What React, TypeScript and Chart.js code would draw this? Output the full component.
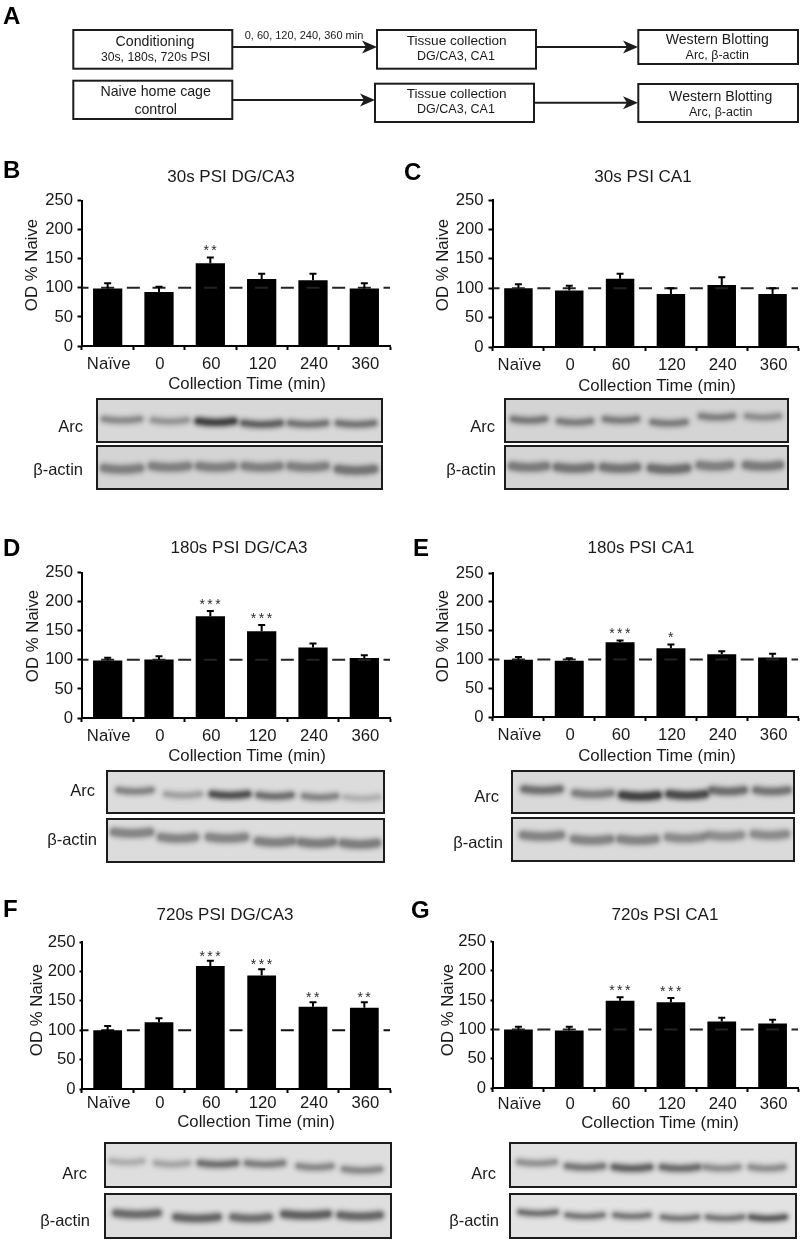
import React, { useEffect, useRef } from "react";
import { Chart, registerables } from "chart.js";

Chart.register(...registerables);

const FONT = '"Liberation Sans", Arial, sans-serif';
const INK = "#1a1a1a";

// ---- Chart data ----
const timeLabels = ["Naïve", "0", "60", "120", "240", "360"];
const yTicks = [0, 50, 100, 150, 200, 250];
const baseline = 100;

const bValues = [99, 93, 142, 115, 113, 99];
const bErrTop = [108, 102, 152, 124, 124, 108];
const bStars = ["", "", "**", "", "", ""];

const cValues = [100, 96, 116, 90, 105.5, 90];
const cErrTop = [106.7, 104, 124.7, 100, 118.5, 100];
const cStars = ["", "", "", "", "", ""];

const dValues = [99, 100.7, 175, 149, 121, 103];
const dErrTop = [103.5, 106, 184, 160, 128, 108];
const dStars = ["", "", "***", "***", "", ""];

const eValues = [99.4, 97.7, 130, 119.5, 109, 103.4];
const eErrTop = [104, 102, 132.8, 126, 114, 110];
const eStars = ["", "", "***", "*", "", ""];

const fValues = [100, 113.7, 209, 193, 139.7, 138];
const fErrTop = [107, 120.5, 218, 203.6, 147.6, 147.6];
const fStars = ["", "", "***", "***", "**", "**"];

const gValues = [100, 98, 149, 146.5, 113.7, 110];
const gErrTop = [104.6, 104.6, 155, 153.8, 120, 116.5];
const gStars = ["", "", "***", "***", "", ""];

// ---- Panel layout ----
const panels = [
  { id: "B", values: bValues, err: bErrTop, stars: bStars, title: "30s PSI DG/CA3", l: 82, r: 390, t: 200, b: 345.7, bw: 0.57, tick: 4.5, yPad: 4.5, xPad: 4, dash: "#232323", gap: 8,
    letter: [3, 178], titleAt: [231, 176], yAt: [31, 265], xAt: [247, 383] },
  { id: "C", values: cValues, err: cErrTop, stars: cStars, title: "30s PSI CA1", l: 492.7, r: 798, t: 199, b: 346.7, bw: 0.56, tick: 4.5, yPad: 5, xPad: 4, dash: "#232323", gap: 8,
    letter: [404, 180], titleAt: [643, 176], yAt: [442, 265], xAt: [657, 385] },
  { id: "D", values: dValues, err: dErrTop, stars: dStars, title: "180s PSI DG/CA3", l: 82, r: 390, t: 571.7, b: 717.3, bw: 0.57, tick: 4.5, yPad: 4.5, xPad: 4, dash: "#232323", gap: 8,
    letter: [3, 556], titleAt: [239, 547], yAt: [32, 636], xAt: [247, 755] },
  { id: "E", values: eValues, err: eErrTop, stars: eStars, title: "180s PSI CA1", l: 492.7, r: 798, t: 572.3, b: 717.3, bw: 0.57, tick: 4.5, yPad: 5, xPad: 4, dash: "#232323", gap: 8,
    letter: [413, 556], titleAt: [641, 547], yAt: [442, 636], xAt: [657, 755] },
  { id: "F", values: fValues, err: fErrTop, stars: fStars, title: "720s PSI DG/CA3", l: 81.7, r: 390, t: 941.7, b: 1089, bw: 0.56, tick: 2.5, yPad: 4, xPad: 0, dash: "#111", gap: 6,
    letter: [3, 917], titleAt: [225, 914], yAt: [36, 1010], xAt: [256, 1121] },
  { id: "G", values: gValues, err: gErrTop, stars: gStars, title: "720s PSI CA1", l: 493, r: 798, t: 941, b: 1088, bw: 0.565, tick: 2.5, yPad: 4.5, xPad: 2, dash: "#232323", gap: 8,
    letter: [411, 918], titleAt: [665, 914], yAt: [447, 1010], xAt: [660, 1122] },
];

// ---- Blot images (lane centre, lane width, band centre, darkness) ----
const blots = [
  { box: [97, 399, 382, 442], bg: "#d8d8d8", label: "Arc", lx: 83, ly: 426, h: 6,
    cx: [122, 170, 216, 262, 308, 356], w: [34, 32, 34, 35, 34, 34], cy: [420, 421, 422, 424, 424, 424], dk: [0.36, 0.3, 0.82, 0.6, 0.48, 0.48] },
  { box: [97, 446, 382, 489], bg: "#d4d4d4", label: "β-actin", lx: 83, ly: 469, h: 8,
    cx: [122, 170, 216, 262, 308, 356], w: [34, 34, 32, 33, 33, 34], cy: [469, 467, 467, 467, 467, 470], dk: [0.4, 0.4, 0.4, 0.4, 0.4, 0.46] },
  { box: [505, 399, 788, 442], bg: "#d4d4d4", label: "Arc", lx: 495, ly: 426, h: 6,
    cx: [529, 575, 621, 669, 717, 763], w: [30, 30, 30, 31, 30, 30], cy: [420, 422, 420, 423, 417, 417], dk: [0.44, 0.42, 0.42, 0.42, 0.4, 0.32] },
  { box: [505, 446, 788, 489], bg: "#d4d4d4", label: "β-actin", lx: 496, ly: 469, h: 8,
    cx: [529, 574, 620, 669, 715, 763], w: [32, 32, 32, 34, 29, 32], cy: [467, 468, 468, 469, 466, 466], dk: [0.43, 0.46, 0.46, 0.5, 0.4, 0.43] },
  { box: [107, 771, 384, 813], bg: "#dcdcdc", label: "Arc", lx: 95, ly: 790, h: 6,
    cx: [135, 183, 230, 275, 320, 362], w: [31, 32, 34, 31, 30, 31], cy: [791, 795, 795, 796, 797, 798], dk: [0.4, 0.26, 0.72, 0.52, 0.4, 0.18] },
  { box: [107, 819, 384, 862], bg: "#dcdcdc", label: "β-actin", lx: 97, ly: 839, h: 8,
    cx: [132, 178, 227, 275, 317, 360], w: [34, 32, 34, 32, 30, 32], cy: [833, 838, 838, 842, 843, 844], dk: [0.4, 0.4, 0.4, 0.42, 0.44, 0.44] },
  { box: [512, 771, 794, 813], bg: "#d9d9d9", label: "Arc", lx: 499, ly: 796, h: 7,
    cx: [542, 593, 640, 687, 728, 772], w: [34, 34, 34, 34, 30, 30], cy: [790, 794, 796, 795, 791, 791], dk: [0.5, 0.42, 0.82, 0.75, 0.52, 0.48] },
  { box: [512, 818, 794, 861], bg: "#dadada", label: "β-actin", lx: 503, ly: 842, h: 8,
    cx: [542, 592, 638, 685, 725, 770], w: [36, 34, 33, 32, 30, 30], cy: [836, 840, 840, 838, 836, 835], dk: [0.4, 0.4, 0.4, 0.36, 0.34, 0.36] },
  { box: [105, 1143, 391, 1187], bg: "#dedede", label: "Arc", lx: 87, ly: 1173, h: 6,
    cx: [127, 172, 218, 265, 315, 362], w: [29, 30, 34, 34, 31, 34], cy: [1162, 1164, 1164, 1164, 1167, 1170], dk: [0.2, 0.24, 0.52, 0.44, 0.38, 0.38] },
  { box: [105, 1194, 391, 1238], bg: "#dedede", label: "β-actin", lx: 90, ly: 1220, h: 7,
    cx: [137, 197, 251, 306, 360], w: [40, 40, 34, 42, 38], cy: [1214, 1218, 1218, 1215, 1216], dk: [0.55, 0.57, 0.52, 0.62, 0.57] },
  { box: [510, 1143, 796, 1187], bg: "#e0e0e0", label: "Arc", lx: 496, ly: 1173, h: 6,
    cx: [537, 585, 632, 680, 722, 767], w: [34, 34, 34, 34, 31, 31], cy: [1163, 1167, 1168, 1168, 1168, 1168], dk: [0.34, 0.48, 0.6, 0.54, 0.36, 0.36] },
  { box: [510, 1194, 796, 1238], bg: "#e2e2e2", label: "β-actin", lx: 499, ly: 1220, h: 5,
    cx: [538, 585, 632, 680, 725, 768], w: [34, 34, 32, 33, 33, 32], cy: [1213, 1216, 1216, 1218, 1218, 1218], dk: [0.54, 0.5, 0.5, 0.5, 0.5, 0.66] },
];

// ---- Flow diagram A ----
const flowBoxes = [
  [73.3, 30, 232.3, 68.7], [73.3, 80.7, 232.3, 119],
  [377, 30, 536, 68.7], [375, 83.7, 534, 122],
  [638.3, 30, 798, 64], [638.3, 84, 798, 122],
];
const flowArrows = [
  [232, 377, 47], [232, 375, 100], [536, 638, 47], [534, 638, 102.7],
];
const flowTexts: [string, number, number, number][] = [
  ["Conditioning", 155, 41, 14.2],
  ["30s, 180s, 720s PSI", 155.5, 56.7, 12.2],
  ["Naive home cage", 155.7, 91, 14.2],
  ["control", 155.7, 109, 14.2],
  ["0, 60, 120, 240, 360 min", 304, 34.7, 11],
  ["Tissue collection", 456.7, 40, 13.6],
  ["DG/CA3, CA1", 456, 55.7, 12.5],
  ["Tissue collection", 456.7, 93.3, 13.6],
  ["DG/CA3, CA1", 456, 109, 12.5],
  ["Western Blotting", 717.3, 39.3, 14.1],
  ["Arc, β-actin", 717.3, 55, 12.5],
  ["Western Blotting", 720.7, 96.3, 14.1],
  ["Arc, β-actin", 720.7, 112, 12.5],
];

const PAD_L = 60;
const PAD_T = 14;
const PAD_R = 4;
const PAD_B = 34;

function drawBaseline(chart: any, opts: any) {
  const { ctx, scales, chartArea } = chart;
  const half = (chartArea.right - chartArea.left) / timeLabels.length / 2;
  const py = scales.y.getPixelForValue(baseline);
  ctx.save();
  ctx.strokeStyle = opts.dash;
  ctx.lineWidth = 2;
  ctx.setLineDash([13, half - 13]);
  ctx.lineDashOffset = 6.5;
  ctx.beginPath();
  ctx.moveTo(chartArea.left, py);
  ctx.lineTo(chartArea.right, py);
  ctx.stroke();
  ctx.restore();
}

const marksPlugin = {
  id: "marks",
  beforeDatasetsDraw(chart: any, _a: any, opts: any) {
    if (opts.behind) drawBaseline(chart, opts);
  },
  afterDatasetsDraw(chart: any, _a: any, opts: any) {
    if (!opts.behind) drawBaseline(chart, opts);
    const { ctx, scales } = chart;
    const x = scales.x;
    const y = scales.y;
    ctx.save();
    ctx.strokeStyle = "#000";
    ctx.lineWidth = 2;
    opts.err.forEach((top: number, i: number) => {
      const cx = x.getPixelForValue(i);
      const py = y.getPixelForValue(top);
      const base = y.getPixelForValue(opts.values[i]);
      ctx.beginPath();
      ctx.moveTo(cx, base);
      ctx.lineTo(cx, py);
      ctx.moveTo(cx - 3.5, py);
      ctx.lineTo(cx + 3.5, py);
      ctx.stroke();
      if (opts.stars[i]) {
        ctx.fillStyle = "#2a2a2a";
        ctx.font = `14px ${FONT}`;
        ctx.textAlign = "center";
        ctx.textBaseline = "middle";
        (ctx as any).letterSpacing = "2.5px";
        ctx.fillText(opts.stars[i], cx + 1, py - opts.gap + 2);
        (ctx as any).letterSpacing = "0px";
      }
    });
    ctx.restore();
  },
};

function Panel({ p }: { p: (typeof panels)[number] }) {
  const ref = useRef<HTMLCanvasElement>(null);
  const width = p.r - p.l + PAD_L + PAD_R;
  const height = p.b - p.t + PAD_T + PAD_B;
  useEffect(() => {
    const chart = new Chart(ref.current as HTMLCanvasElement, {
      type: "bar",
      data: {
        labels: timeLabels,
        datasets: [
          {
            label: p.title,
            data: p.values,
            backgroundColor: "#000",
            barPercentage: p.bw,
            categoryPercentage: 1,
          },
        ],
      } as any,
      options: {
        responsive: false,
        animation: false,
        devicePixelRatio: 1,
        layout: { padding: { top: PAD_T, right: PAD_R, left: 0, bottom: 0 } },
        plugins: {
          legend: { display: false },
          title: { display: false },
          tooltip: { enabled: false },
          marks: { values: p.values, err: p.err, stars: p.stars, gap: p.gap, dash: p.dash, behind: p.id === "F" },
        } as any,
        scales: {
          x: {
            type: "category",
            offset: true,
            afterFit: (s: any) => { s.height = PAD_B; },
            grid: { offset: true, drawOnChartArea: false, drawTicks: true, tickLength: 4, tickWidth: 2, tickColor: "#000" },
            border: { color: "#000", width: 2 },
            ticks: { color: INK, font: { family: FONT, size: 16.7 }, padding: p.xPad, maxRotation: 0, autoSkip: false, labelOffset: 1 },
          },
          y: {
            min: 0,
            max: 250,
            afterFit: (s: any) => { s.width = PAD_L; },
            afterBuildTicks: (s: any) => { s.ticks = yTicks.map((value) => ({ value })); },
            grid: { drawOnChartArea: false, drawTicks: true, tickLength: p.tick, tickWidth: 2, tickColor: "#000" },
            border: { color: "#000", width: 2 },
            ticks: { color: INK, font: { family: FONT, size: 16.7 }, padding: p.yPad },
          },
        } as any,
      },
      plugins: [marksPlugin as any],
    });
    return () => chart.destroy();
  }, []);
  return (
    <canvas
      ref={ref}
      width={Math.round(width)}
      height={Math.round(height)}
      style={{ position: "absolute", left: p.l - PAD_L, top: p.t - PAD_T, width: Math.round(width), height: Math.round(height) }}
    />
  );
}

function Label({ x, y, size, text, anchor = "middle", rotate, bold }: any) {
  return (
    <text
      x={x}
      y={y}
      fontSize={size}
      fontFamily={FONT}
      fontWeight={bold ? 700 : 400}
      fill={INK}
      textAnchor={anchor}
      dominantBaseline="central"
      transform={rotate ? `rotate(${rotate} ${x} ${y})` : undefined}
    >
      {text}
    </text>
  );
}

function Blot({ b, idx }: { b: (typeof blots)[number]; idx: number }) {
  const [x0, y0, x1, y1] = b.box;
  return (
    <g>
      <clipPath id={`blot${idx}`}><rect x={x0} y={y0} width={x1 - x0} height={y1 - y0} /></clipPath>
      <rect x={x0} y={y0} width={x1 - x0} height={y1 - y0} fill={b.bg} />
      <g clipPath={`url(#blot${idx})`}>
        {b.cx.map((cx, i) => {
          const w = b.w[i] / 2 + 1;
          const cy = b.cy[i];
          const d = `M${cx - w} ${cy - 1} Q${cx} ${cy + 2} ${cx + w} ${cy - 1}`;
          return (
            <g key={i}>
              <path d={d} fill="none" stroke="#000" strokeOpacity={b.dk[i] * 0.55} strokeWidth={b.h + 4} strokeLinecap="round" filter="url(#soft)" />
              <path d={d} fill="none" stroke="#000" strokeOpacity={b.dk[i] * 0.55} strokeWidth={b.h - 1} strokeLinecap="round" filter="url(#soft2)" />
            </g>
          );
        })}
      </g>
      <rect x={x0} y={y0} width={x1 - x0} height={y1 - y0} fill="none" stroke="#1c1c1c" strokeWidth={2} />
      <Label x={b.lx} y={b.ly} size={16.5} text={b.label} anchor="end" />
    </g>
  );
}

export default function App() {
  return (
    <div style={{ position: "absolute", left: 0, top: 0, width: 800, height: 1241, background: "#fff", overflow: "hidden", filter: "blur(0.35px)" }}>
      {panels.map((p) => <Panel key={p.id} p={p} />)}
      <svg width={800} height={1241} style={{ position: "absolute", left: 0, top: 0, pointerEvents: "none" }}>
        <defs>
          <filter id="soft" filterUnits="userSpaceOnUse" x="0" y="0" width="800" height="1241"><feGaussianBlur stdDeviation="2.2" /></filter>
          <filter id="soft2" filterUnits="userSpaceOnUse" x="0" y="0" width="800" height="1241"><feGaussianBlur stdDeviation="1.4" /></filter>
        </defs>
        <text x={3} y={23.5} fontFamily={FONT} fontWeight={700} fontSize={24} fill="#000">A</text>
        {flowBoxes.map(([a, b, c, d], i) => (
          <rect key={i} x={a} y={b} width={c - a} height={d - b} fill="#fff" stroke="#1c1c1c" strokeWidth={2} />
        ))}
        {flowArrows.map(([a, b, y], i) => (
          <g key={i} fill="#1c1c1c">
            <line x1={a} x2={b - 8} y1={y} y2={y} stroke="#1c1c1c" strokeWidth={2} />
            <path d={`M${b} ${y} L${b - 15} ${y - 6.5} L${b - 11} ${y} L${b - 15} ${y + 6.5} Z`} />
          </g>
        ))}
        {flowTexts.map(([t, x, y, s], i) => <Label key={i} x={x} y={y} size={s} text={t} />)}
        {panels.map((p) => (
          <g key={p.id}>
            <text x={p.letter[0]} y={p.letter[1]} fontFamily={FONT} fontWeight={700} fontSize={24} fill="#000">{p.id}</text>
            <Label x={p.titleAt[0]} y={p.titleAt[1]} size={17} text={p.title} />
            <Label x={p.yAt[0]} y={p.yAt[1]} size={16.8} text="OD % Naive" rotate={-90} />
            <Label x={p.xAt[0]} y={p.xAt[1]} size={16.8} text="Collection Time (min)" />
          </g>
        ))}
        {blots.map((b, i) => <Blot key={i} b={b} idx={i} />)}
      </svg>
    </div>
  );
}
